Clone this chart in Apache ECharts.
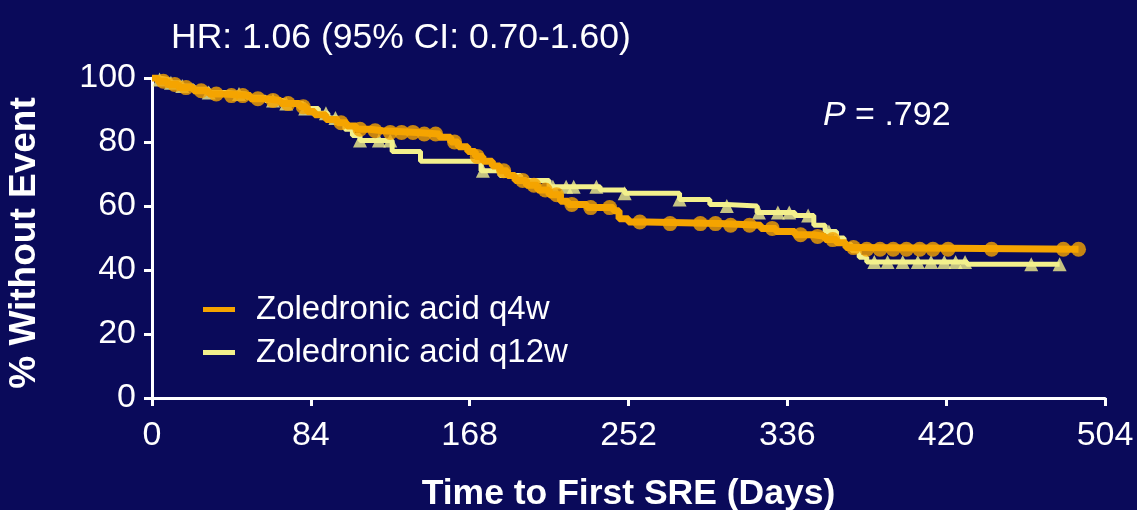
<!DOCTYPE html>
<html>
<head>
<meta charset="utf-8">
<script src="https://cdn.jsdelivr.net/npm/echarts@6/dist/echarts.min.js"></script>
<style>
html,body{margin:0;padding:0;background:#0a0a5a;}
#chart{width:1137px;height:510px;}
</style>
</head>
<body>
<div id="chart"></div>
<script>
// ---- data ----
const xTicks = [0, 84, 168, 252, 336, 420, 504];
const yTicks = [0, 20, 40, 60, 80, 100];

// Zoledronic acid q4w: step points [day, % without event]
const q4wTime = [0,3,8,14,22,30,38,52,60,68,78,82,86,92,98,103,108,115,122,140,152,158,162,167,171,175,180,184,188,192,198,204,210,216,220,230,244,247,252,262,300,322,330,340,350,356,362,367,372,490];
const q4wSurv = [100,99,98,97,96,95,94.5,93.5,93,92,91,89.5,88.5,87,86,85,84,83.5,83,82.5,81.5,80,78.5,77,75.5,74,72.5,71,69.5,68,66.5,65,63.5,61.5,60.5,59.5,58.5,56,55,54.5,54,53,52,51,50.5,49.5,48.5,47,46.5,46.5];
const q4wCensor = [6,12,18,26,34,42,48,56,64,72,80,100,110,118,126,132,138,144,150,160,172,186,196,202,208,214,222,232,242,258,274,290,298,306,316,328,343,352,360,371,378,385,392,399,406,413,421,444,482,490];

// Zoledronic acid q12w
const q12wTime = [0,4,9,15,22,30,40,50,60,70,80,88,93,98,102,106,110,127,142,174,184,195,210,237,250,279,295,304,320,340,350,356,362,366,370,374,378,431,480];
const q12wSurv = [100,99.5,98.5,97.5,96.5,95.5,95,94,93,92,90.5,89,87.5,86,84,82,80.5,77,74,71,69.5,68,66,65,64,62,60.5,60,58,57,54,52,50,48,46,44,42.5,41.8,41.8];
const q12wCensor = [4,10,16,30,46,64,71,81,92,97,110,120,126,175,212,219,223,235,250,279,304,321,331,337,347,358,382,389,397,405,412,419,425,430,465,480];

const seriesNames = ['Zoledronic acid q4w', 'Zoledronic acid q12w'];
const titleText = 'HR: 1.06 (95% CI: 0.70-1.60)';
const xName = 'Time to First SRE (Days)';
const yName = '% Without Event';

// ---- build ----
function pairs(t, s) { return t.map((v, i) => [v, s[i]]); }
function survAt(t, times, surv) {
  let v = surv[0];
  for (let i = 0; i < times.length; i++) { if (times[i] <= t) v = surv[i]; else break; }
  return v;
}
function censorPts(c, times, surv) { return c.map(t => [t, survAt(t, times, surv)]); }

const ORANGE = '#f5a400';
const YELLOW = '#f3f08c';
const FONT = '"Liberation Sans", Arial, sans-serif';

const chart = echarts.init(document.getElementById('chart'), null, {renderer: 'canvas'});
chart.setOption({
  backgroundColor: '#0a0a5a',
  animation: false,
  textStyle: {fontFamily: FONT},
  title: [
    {text: titleText, left: 166, top: 15, textStyle: {color: '#ffffff', fontSize: 35.5, fontWeight: 'normal', fontFamily: FONT}},
    {text: '{i|P} = .792', left: 818, top: 94, textStyle: {color: '#ffffff', fontSize: 34, fontWeight: 'normal', fontFamily: FONT,
      rich: {i: {fontStyle: 'italic', color: '#ffffff', fontSize: 34, fontFamily: FONT}}}}
  ],
  legend: {
    orient: 'vertical', left: 198, top: 288, itemGap: 10,
    itemWidth: 32, itemHeight: 5, icon: 'rect',
    data: seriesNames,
    formatter: '{a|{name}}',
    textStyle: {color: '#ffffff', fontSize: 33, fontFamily: FONT,
      rich: {a: {color: '#ffffff', fontSize: 33, fontFamily: FONT, padding: [0, 0, 0, 16], lineHeight: 36}}}
  },
  grid: {left: 152, right: 32, top: 78, bottom: 112, containLabel: false, outerBoundsMode: 'none'},
  xAxis: {
    type: 'value', min: 0, max: 504, interval: 84,
    name: xName, nameLocation: 'middle', nameGap: 78,
    nameTextStyle: {color: '#ffffff', fontSize: 35.5, fontWeight: 'bold', fontFamily: FONT},
    axisLine: {show: true, onZero: false, lineStyle: {color: '#ffffff', width: 3}},
    axisTick: {show: true, length: 8, lineStyle: {color: '#ffffff', width: 3}},
    axisLabel: {color: '#ffffff', fontSize: 34, margin: 21, fontFamily: FONT,
      formatter: v => xTicks.includes(v) ? String(v) : ''},
    splitLine: {show: false}
  },
  yAxis: {
    type: 'value', min: 0, max: 100, interval: 20,
    name: yName, nameLocation: 'middle', nameGap: 109, nameRotate: 90,
    nameTextStyle: {color: '#ffffff', fontSize: 37, fontWeight: 'bold', fontFamily: FONT, padding: [0, 10, 0, 0]},
    axisLine: {show: true, onZero: false, lineStyle: {color: '#ffffff', width: 3}},
    axisTick: {show: true, length: 8, lineStyle: {color: '#ffffff', width: 3}},
    axisLabel: {color: '#ffffff', fontSize: 34, margin: 16, fontFamily: FONT,
      formatter: v => yTicks.includes(v) ? String(v) : ''},
    splitLine: {show: false}
  },
  series: [
    {name: seriesNames[1], type: 'line', step: 'end', showSymbol: false, color: YELLOW,
     lineStyle: {color: YELLOW, width: 5}, data: pairs(q12wTime, q12wSurv), z: 2},
    {name: seriesNames[1] + ' censored', type: 'scatter', symbol: 'triangle', symbolSize: 14,
     itemStyle: {color: YELLOW}, data: censorPts(q12wCensor, q12wTime, q12wSurv), z: 3},
    {name: seriesNames[0], type: 'line', step: 'end', showSymbol: false, color: ORANGE,
     lineStyle: {color: ORANGE, width: 7}, data: pairs(q4wTime, q4wSurv), z: 4},
    {name: seriesNames[0] + ' censored', type: 'scatter', symbol: 'circle', symbolSize: 15,
     itemStyle: {color: ORANGE}, data: censorPts(q4wCensor, q4wTime, q4wSurv), z: 5}
  ]
});
</script>
</body>
</html>
